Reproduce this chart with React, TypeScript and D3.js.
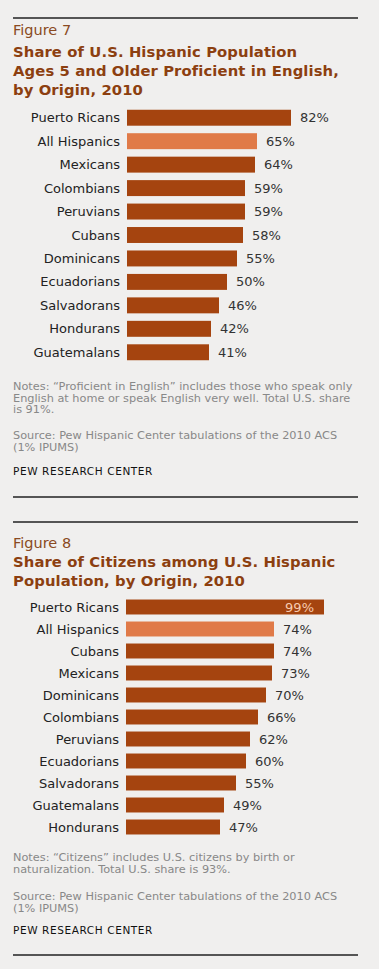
import React from "react";
import * as d3 from "d3";

const fig7Categories = ["Puerto Ricans", "All Hispanics", "Mexicans", "Colombians", "Peruvians", "Cubans", "Dominicans", "Ecuadorians", "Salvadorans", "Hondurans", "Guatemalans"];
const fig7Values = [82, 65, 64, 59, 59, 58, 55, 50, 46, 42, 41];
const fig7Title = ["Share of U.S. Hispanic Population", "Ages 5 and Older Proficient in English,", "by Origin, 2010"];
const fig7Notes = ["Notes: \u201cProficient in English\u201d includes those who speak only", "English at home or speak English very well. Total U.S. share", "is 91%."];

const fig8Categories = ["Puerto Ricans", "All Hispanics", "Cubans", "Mexicans", "Dominicans", "Colombians", "Peruvians", "Ecuadorians", "Salvadorans", "Guatemalans", "Hondurans"];
const fig8Values = [99, 74, 74, 73, 70, 66, 62, 60, 55, 49, 47];
const fig8Title = ["Share of Citizens among U.S. Hispanic", "Population, by Origin, 2010"];
const fig8Notes = ["Notes: \u201cCitizens\u201d includes U.S. citizens by birth or", "naturalization. Total U.S. share is 93%."];

const sourceLines = ["Source: Pew Hispanic Center tabulations of the 2010 ACS", "(1% IPUMS)"];
const highlight = "All Hispanics";

const FONT = "'DejaVu Sans', Verdana, sans-serif";
const BAR = "#a5440f";
const HI = "#e07a48";
const TITLE = "#8c3f10";

type PanelProps = {
  label: string;
  title: string[];
  categories: string[];
  values: number[];
  notes: string[];
  top: number;
  labelY: number;
  titleY: number;
  barsTop: number;
  barsBottom: number;
  barX: number;
  notesY: number;
  sourceY: number;
  pewY: number;
  bottomY: number;
};

function Panel(p: PanelProps) {
  const x = d3.scaleLinear().domain([0, 100]).range([p.barX, p.barX + 200]);
  const y = d3.scaleBand<string>().domain(p.categories).range([p.barsTop, p.barsBottom]).paddingInner(0.32).paddingOuter(0.16);
  return (
    <g>
      <line x1={13} x2={358} y1={p.top} y2={p.top} stroke="#222" strokeWidth={1.3} />
      <text x={13} y={p.labelY} fontSize={14.5} fill="#8a4a22" fontFamily={FONT}>{p.label}</text>
      {p.title.map((t, i) => (
        <text key={i} x={13} y={p.titleY + i * 19} fontSize={14.8} letterSpacing={0.1} fontWeight="bold" fill={TITLE} fontFamily={FONT}>{t}</text>
      ))}
      {p.categories.map((c, i) => {
        const v = p.values[i];
        const by = y(c)!;
        const bh = y.bandwidth();
        const inside = v > 90;
        return (
          <g key={c}>
            <text x={p.barX - 7} y={by + bh / 2} dy="0.35em" textAnchor="end" fontSize={13} fill="#222" fontFamily={FONT}>{c}</text>
            <rect x={x(0)} y={by} width={x(v) - x(0)} height={bh} fill={c === highlight ? HI : BAR} />
            <text x={inside ? x(v) - 10 : x(v) + 9} y={by + bh / 2} dy="0.35em" textAnchor={inside ? "end" : "start"} fontSize={13} fill={inside ? "#f7cbb0" : "#333"} fontFamily={FONT}>{v}%</text>
          </g>
        );
      })}
      {p.notes.map((t, i) => (
        <text key={i} x={13} y={p.notesY + i * 11.5} fontSize={11.3} fill="#888" fontFamily={FONT}>{t}</text>
      ))}
      {sourceLines.map((t, i) => (
        <text key={i} x={13} y={p.sourceY + i * 11.5} fontSize={11.3} fill="#888" fontFamily={FONT}>{t}</text>
      ))}
      <text x={13} y={p.pewY} fontSize={10.5} letterSpacing={0.6} fill="#111" fontFamily={FONT}>PEW RESEARCH CENTER</text>
      <line x1={13} x2={358} y1={p.bottomY} y2={p.bottomY} stroke="#222" strokeWidth={1.3} />
    </g>
  );
}

export default function App() {
  return (
    <svg width={379} height={969} style={{ position: "absolute", left: 0, top: 0, background: "#f0efee" }}>
      <rect width={379} height={969} fill="#f0efee" />
      <Panel label="Figure 7" title={fig7Title} categories={fig7Categories} values={fig7Values} notes={fig7Notes}
        top={18} labelY={35} titleY={57} barsTop={106} barsBottom={364} barX={127}
        notesY={390} sourceY={439} pewY={475} bottomY={497} />
      <Panel label="Figure 8" title={fig8Title} categories={fig8Categories} values={fig8Values} notes={fig8Notes}
        top={522} labelY={548} titleY={567} barsTop={596} barsBottom={838} barX={126}
        notesY={861} sourceY={900} pewY={934} bottomY={955} />
    </svg>
  );
}
